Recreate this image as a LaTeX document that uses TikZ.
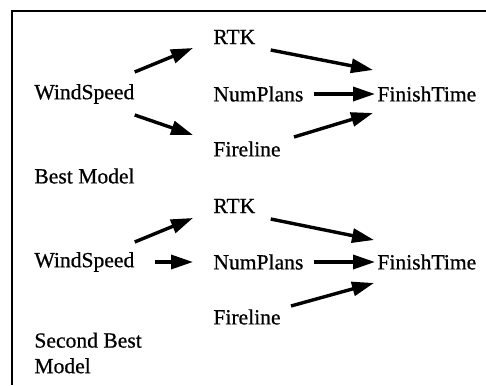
\documentclass[tikz,border=0pt]{standalone}
\usepackage{fontspec}
\setmainfont{Liberation Serif}[FakeBold=0.7]
\usetikzlibrary{arrows.meta,calc}

\begin{document}
\begin{tikzpicture}[
        x=0.5pt, y=-0.5pt,
        >={Triangle[length=11pt,width=7pt]},
        every node/.style={font=\fontsize{10.8}{12.8}\selectfont, inner sep=0pt, anchor=west},
        arr/.style={->, line width=1.7pt}
    ]

        \useasboundingbox (0,0) rectangle (486,385);

        % Rahmen
        \draw[line width=1pt] (12,385) -- (12,11) -- (486,11);

        % Best Model
        \node (rtk1) at (213,37) {RTK};
        \node (ws1) at (34,94) {WindSpeed};
        \node (np1) at (213,94) {NumPlans};
        \node (ft1) at (377,94) {FinishTime};
        \node (fl1) at (213,149) {Fireline};
        \node (bm1) at (34,176) {Best Model};

        \draw[arr] ($(ws1.east)+(0,-22)$) -- ($(rtk1.west)+(-20,11)$);
        \draw[arr] ($(rtk1.east)+(15,13)$) -- ($(ft1.west)+(-4,-24)$);
        \draw[arr] ($(np1.east)+(10,0)$) -- ($(ft1.west)+(-2,0)$);
        \draw[arr] ($(ws1.east)+(0,21)$) -- ($(fl1.west)+(-20,-14)$);
        \draw[arr] ($(fl1.east)+(13,-12)$) -- ($(ft1.west)+(-4,19)$);

        % Second Best Model
        \node (rtk2) at (213,206) {RTK};
        \node (ws2) at (34,262) {WindSpeed};
        \node (np2) at (213,262) {NumPlans};
        \node (ft2) at (377,262) {FinishTime};
        \node (fl2) at (213,317) {Fireline};
        \node[align=left] (bm2) at (34,353) {Second Best\\Model};

        \draw[arr] ($(ws2.east)+(0,-20)$) -- ($(rtk2.west)+(-20,12)$);
        \draw[arr] ($(rtk2.east)+(15,13)$) -- ($(ft2.west)+(-3,-22)$);
        \draw[arr] ($(ws2.east)+(20,0)$) -- ($(np2.west)+(-20,0)$);
        \draw[arr] ($(np2.east)+(10,0)$) -- ($(ft2.west)+(-2,0)$);
        \draw[arr] ($(fl2.east)+(10,-11)$) -- ($(ft2.west)+(-3,21)$);

    \end{tikzpicture}
\end{document}
